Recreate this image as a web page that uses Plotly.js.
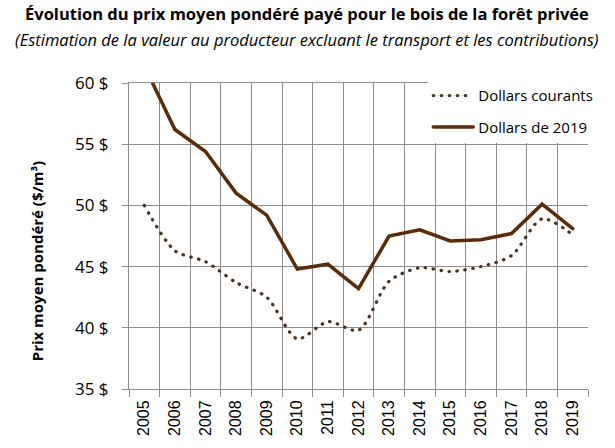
<!DOCTYPE html>
<html>
<head>
<meta charset="utf-8">
<script src="https://cdn.plot.ly/plotly-3.0.1.min.js"></script>
<style>
  html, body { margin: 0; padding: 0; background: #fff; }
  #chart { width: 615px; height: 448px; }
  #chart .js-line { stroke-linecap: round !important; }
</style>
</head>
<body>
<div id="chart"></div>
<script>
const years = ['2005', '2006', '2007', '2008', '2009', '2010', '2011', '2012',
               '2013', '2014', '2015', '2016', '2017', '2018', '2019'];
const courants = [50.0, 46.3, 45.4, 43.7, 42.5, 39.1, 40.5, 39.8,
                  43.8, 44.9, 44.6, 45.0, 45.9, 48.9, 47.6];
const dollars2019 = [61.4, 56.2, 54.4, 51.0, 49.2, 44.8, 45.2, 43.2,
                     47.5, 48.0, 47.1, 47.2, 47.7, 50.1, 48.1];

const gridColor = '#8c8c8c';

let traces = [
    {
        type: 'scatter',
        mode: 'lines',
        name: 'Dollars courants',
        legendgroup: 'a',
        x: years,
        y: courants,
        line: { color: '#4d3220', width: 3.2, dash: '0.5px,7.5px', shape: 'spline', smoothing: 0.8 }
    },
    {
        type: 'scatter',
        mode: 'lines',
        name: 'Dollars de 2019',
        legendgroup: 'b',
        x: years,
        y: dollars2019,
        line: { color: '#5b2c0a', width: 3.5 }
    }
];

let layout = {
    width: 615,
    height: 448,
    margin: { l: 129, r: 27, t: 83, b: 59 },
    paper_bgcolor: '#fff',
    plot_bgcolor: '#fff',
    font: { family: 'Open Sans, sans-serif', color: '#000' },
    showlegend: true,
    legend: {
        x: 0.652,
        xanchor: 'left',
        y: 1.012,
        yanchor: 'top',
        bgcolor: '#fff',
        borderwidth: 0,
        itemwidth: 40,
        tracegroupgap: 9,
        traceorder: 'grouped',
        font: { family: 'Open Sans, sans-serif', size: 15, color: '#000' }
    },
    xaxis: {
        type: 'category',
        range: [-0.5, 14.5],
        tickson: 'boundaries',
        ticks: 'outside',
        ticklen: 7,
        tickcolor: gridColor,
        tickangle: -90,
        ticklabelstandoff: 4,
        tickfont: { family: 'Liberation Sans, Arial, sans-serif', size: 16, color: '#000' },
        showgrid: true,
        gridcolor: gridColor,
        gridwidth: 1,
        showline: true,
        linecolor: gridColor,
        linewidth: 1,
        mirror: true,
        zeroline: false,
        fixedrange: true
    },
    yaxis: {
        range: [35, 60],
        dtick: 5,
        tick0: 35,
        ticksuffix: ' $',
        ticks: 'outside',
        ticklen: 6,
        tickcolor: gridColor,
        ticklabelstandoff: 10,
        tickfont: { family: 'Open Sans, sans-serif', size: 17, color: '#000' },
        showgrid: true,
        gridcolor: gridColor,
        gridwidth: 1,
        showline: true,
        linecolor: gridColor,
        linewidth: 1,
        zeroline: false,
        fixedrange: true
    },
    annotations: [
        {
            text: '<b>Évolution du prix moyen pondéré payé pour le bois de la forêt privée</b>',
            xref: 'paper', yref: 'paper',
            x: 0.3885, y: 1.2265,
            xanchor: 'center', yanchor: 'middle',
            showarrow: false,
            font: { family: 'Open Sans, sans-serif', size: 16.5, color: '#000' }
        },
        {
            text: '<i>(Estimation de la valeur au producteur excluant le transport et les contributions)</i>',
            xref: 'paper', yref: 'paper',
            x: 0.3885, y: 1.141,
            xanchor: 'center', yanchor: 'middle',
            showarrow: false,
            font: { family: 'Open Sans, sans-serif', size: 16.5, color: '#000' }
        },
        {
            text: '<b>Prix moyen pondéré ($/m³)</b>',
            xref: 'paper', yref: 'paper',
            x: -0.2, y: 0.418,
            xanchor: 'center', yanchor: 'middle',
            textangle: -90,
            showarrow: false,
            font: { family: 'Open Sans, sans-serif', size: 15, color: '#000' }
        }
    ]
};

Plotly.newPlot('chart', traces, layout, { displayModeBar: false, staticPlot: true });
</script>
</body>
</html>
